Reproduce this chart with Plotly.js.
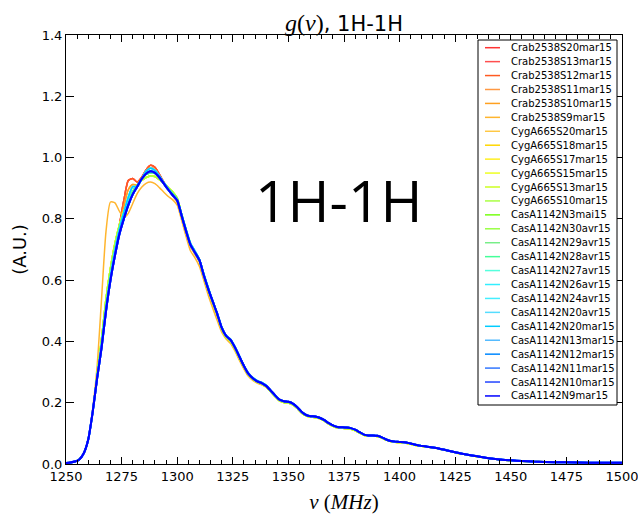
<!DOCTYPE html>
<html>
<head>
<meta charset="utf-8">
<script src="https://cdn.plot.ly/plotly-3.0.1.min.js"></script>
<style>
  html, body { margin: 0; padding: 0; background: #fff; }
  #chart { width: 638px; height: 514px; }
</style>
</head>
<body>
<div id="chart"></div>
<script>
// ---------- DATA ----------
// frequency grid, MHz
const nuHead = [1250,1252,1254,1256,1258,1260,1262,1264,1266,1268,1270,1272,1274,1276,1278,1280,1282,1284,1286,1288,1290,1292,1294,1296,1298,1300,1302,1304,1306,1308,1310,1312,1314,1316,1318,1320,1322,1324,1326,1328,1330,1332,1334,1336,1338,1340];
const nuTail = [1342,1344,1346,1348,1350,1352,1354,1356,1358,1360,1362,1364,1366,1368,1370,1372,1374,1376,1378,1380,1382,1384,1386,1388,1390,1392,1394,1396,1398,1400,1403,1406,1409,1412,1415,1418,1421,1424,1427,1430,1435,1440,1445,1450,1455,1460,1470,1480,1490,1500];

// g(nu) head section (1250-1340 MHz) for the curve families
const gCrabRed    = [.003,.005,.008,.015,.035,.08,.17,.28,.39,.51,.61,.70,.78,.86,.925,.932,.92,.935,.96,.975,.968,.945,.92,.897,.877,.858,.81,.76,.712,.688,.662,.612,.567,.528,.488,.443,.416,.403,.378,.348,.318,.293,.278,.268,.262,.253];
const gCrabOrange = [.003,.005,.008,.015,.035,.08,.17,.28,.39,.51,.61,.70,.775,.84,.895,.912,.91,.93,.955,.967,.96,.94,.918,.895,.875,.856,.808,.758,.71,.685,.66,.61,.563,.523,.483,.438,.412,.398,.373,.343,.314,.29,.276,.266,.26,.251];
const gCrabS9     = [.003,.005,.008,.015,.035,.08,.18,.32,.54,.76,.855,.852,.825,.805,.818,.85,.882,.903,.916,.92,.915,.902,.887,.873,.862,.845,.795,.742,.695,.673,.645,.598,.55,.508,.468,.43,.408,.393,.368,.338,.31,.286,.273,.264,.258,.25];
const gCyg        = [.003,.005,.008,.015,.035,.08,.17,.29,.41,.54,.64,.72,.78,.825,.86,.89,.91,.925,.935,.94,.938,.928,.915,.902,.888,.868,.815,.762,.715,.688,.662,.612,.565,.525,.485,.44,.413,.40,.375,.345,.316,.291,.277,.267,.261,.252];
const gCasGreen   = [.003,.005,.008,.015,.035,.08,.17,.29,.40,.52,.62,.70,.77,.82,.86,.89,.91,.93,.945,.95,.948,.935,.918,.90,.883,.865,.815,.765,.72,.693,.667,.618,.572,.531,.49,.446,.419,.405,.38,.35,.32,.295,.28,.27,.264,.255];
const gCasCyan    = [.003,.005,.008,.015,.035,.08,.17,.28,.39,.51,.61,.695,.765,.82,.87,.905,.905,.93,.955,.965,.958,.94,.918,.897,.878,.862,.815,.765,.72,.695,.668,.62,.575,.532,.492,.448,.42,.407,.382,.352,.322,.297,.282,.272,.266,.257];
const gCasBlue    = [.003,.005,.008,.015,.035,.08,.17,.28,.38,.50,.60,.68,.75,.80,.845,.88,.905,.93,.947,.955,.95,.935,.915,.895,.877,.86,.81,.76,.715,.69,.665,.615,.57,.53,.49,.445,.418,.405,.38,.35,.32,.295,.28,.27,.264,.255];

// g(nu) tail section (1342-1500 MHz)
const tailMain = [.24,.224,.21,.205,.203,.197,.185,.17,.16,.156,.155,.151,.144,.134,.126,.121,.12,.119,.117,.112,.104,.096,.093,.093,.092,.087,.08,.075,.073,.072,.07,.065,.06,.057,.054,.05,.045,.04,.035,.031,.025,.019,.015,.012,.01,.008,.006,.005,.004,.004];
const tailLow  = [.236,.22,.206,.201,.199,.193,.181,.166,.157,.153,.152,.148,.141,.131,.123,.118,.117,.116,.114,.109,.101,.094,.091,.091,.09,.085,.078,.073,.071,.07,.068,.063,.059,.056,.053,.049,.044,.039,.034,.03,.024,.018,.014,.011,.009,.008,.006,.005,.004,.004];

const seriesNames = ["Crab2538S20mar15","Crab2538S13mar15","Crab2538S12mar15","Crab2538S11mar15","Crab2538S10mar15","Crab2538S9mar15",
  "CygA665S20mar15","CygA665S18mar15","CygA665S17mar15","CygA665S15mar15","CygA665S13mar15","CygA665S10mar15",
  "CasA1142N3mai15","CasA1142N30avr15","CasA1142N29avr15","CasA1142N28avr15","CasA1142N27avr15","CasA1142N26avr15",
  "CasA1142N24avr15","CasA1142N20avr15","CasA1142N20mar15","CasA1142N13mar15","CasA1142N12mar15","CasA1142N11mar15",
  "CasA1142N10mar15","CasA1142N9mar15"];
const seriesHead = [gCrabRed,gCrabRed,gCrabRed,gCrabOrange,gCrabOrange,gCrabS9,
  gCyg,gCyg,gCyg,gCyg,gCyg,gCyg,
  gCasGreen,gCasGreen,gCasGreen,gCasGreen,gCasCyan,gCasCyan,
  gCasCyan,gCasCyan,gCasCyan,gCasBlue,gCasBlue,gCasBlue,
  gCasBlue,gCasBlue];
const seriesTail = [tailMain,tailMain,tailMain,tailMain,tailMain,tailLow,
  tailLow,tailLow,tailLow,tailLow,tailLow,tailLow,
  tailMain,tailMain,tailMain,tailMain,tailMain,tailMain,
  tailMain,tailMain,tailMain,tailMain,tailMain,tailMain,
  tailMain,tailMain];

const yTickVals = [0,0.2,0.4,0.6,0.8,1.0,1.2,1.4];
const xTickVals = [1250,1275,1300,1325,1350,1375,1400,1425,1450,1475,1500];

// ---------- STYLE ----------
const colors = ["#ff3333","#ff4f4f","#ff5a22","#ff9944","#ffa020","#ffb52e",
  "#ffc844","#ffd700","#ffee22","#eeff22","#ccff22","#aaff44",
  "#77ff11","#99ff44","#77ee88","#44ff99","#55ffdd","#33eeff",
  "#44eeff","#55ddff","#00ccff","#55bbff","#0088ff","#3377ff",
  "#2244ff","#0000ff"];

const nu = nuHead.concat(nuTail);
const traces = seriesNames.map((name, i) => ({
  type: 'scatter', mode: 'lines', name: name,
  x: nu, y: seriesHead[i].concat(seriesTail[i]),
  line: {color: colors[i], width: i >= 21 ? 2 : 1.5, shape: 'spline', smoothing: 0.6},
  showlegend: false, hoverinfo: 'skip'
}));

// plot area in pixels: x 66..622, y 35..464
const L = 66, R = 622, T = 35, B = 464;
const px = v => (v - L) / (R - L);
const py = v => (B - v) / (B - T);

// custom legend (the native one cannot be this compact)
const shapes = [{
  type: 'rect', xref: 'paper', yref: 'paper',
  x0: px(478), x1: px(617), y0: py(405), y1: py(40),
  line: {color: '#000', width: 1}, fillcolor: '#fff', layer: 'above'
}];
const annotations = [];
seriesNames.forEach((name, i) => {
  const yy = 47.7 + i * 13.93;
  shapes.push({type: 'line', xref: 'paper', yref: 'paper', layer: 'above',
    x0: px(485), x1: px(500), y0: py(yy), y1: py(yy),
    line: {color: colors[i], width: 1.5}});
  annotations.push({xref: 'paper', yref: 'paper', x: px(509), y: py(yy),
    xanchor: 'left', yanchor: 'middle', showarrow: false, text: name,
    font: {family: 'DejaVu Sans', size: 10, color: '#000'}});
});
annotations.push({xref: 'paper', yref: 'paper', x: px(339), y: py(200),
  xanchor: 'center', yanchor: 'middle', showarrow: false, text: '1H-1H',
  font: {family: 'Open Sans', size: 57, color: '#000'}});

const serif = 'font-family:Liberation Serif;font-style:italic;font-size:24px';
const serifUp = 'font-family:Liberation Serif;font-size:24px';
const layout = {
  width: 638, height: 514,
  margin: {l: L, r: 638 - R, t: T, b: 514 - B, pad: 0},
  paper_bgcolor: '#fff', plot_bgcolor: '#fff',
  font: {family: 'DejaVu Sans', color: '#000'},
  title: {
    text: '<span style="' + serif + '">g</span><span style="' + serifUp + '">(</span><span style="' + serif + '">ν</span><span style="' + serifUp + '">)</span>, 1H-1H',
    font: {family: 'DejaVu Sans', size: 21, color: '#000'},
    xref: 'paper', x: 0.5, xanchor: 'center',
    yref: 'paper', y: 1, yanchor: 'bottom', pad: {b: 4}
  },
  xaxis: {
    range: [1250, 1500], tickvals: xTickVals, ticktext: xTickVals.map(String),
    ticks: 'inside', ticklen: 7, tickwidth: 1, tickcolor: '#000',
    minor: {dtick: 5, ticks: 'inside', ticklen: 4, tickwidth: 1, tickcolor: '#000'},
    showline: true, linecolor: '#000', linewidth: 1, mirror: 'allticks',
    showgrid: false, zeroline: false, ticklabeloverflow: 'allow',
    tickfont: {family: 'DejaVu Sans', size: 13, color: '#000'},
    title: {text: '<i>ν</i> (<i>MHz</i>)', font: {family: 'Liberation Serif', size: 21, color: '#000'}, standoff: 11}
  },
  yaxis: {
    range: [0, 1.4], tickvals: yTickVals, ticktext: yTickVals.map(v => v.toFixed(1)),
    ticks: 'inside', ticklen: 8, tickwidth: 1, tickcolor: '#000',
    showline: true, linecolor: '#000', linewidth: 1, mirror: 'allticks',
    showgrid: false, zeroline: false,
    tickfont: {family: 'DejaVu Sans', size: 13, color: '#000'},
    title: {text: '(A.U.)', font: {family: 'DejaVu Sans', size: 18, color: '#000'}, standoff: 10}
  },
  shapes: shapes,
  annotations: annotations,
  showlegend: false
};

Plotly.newPlot('chart', traces, layout, {staticPlot: true, displayModeBar: false});
</script>
</body>
</html>
